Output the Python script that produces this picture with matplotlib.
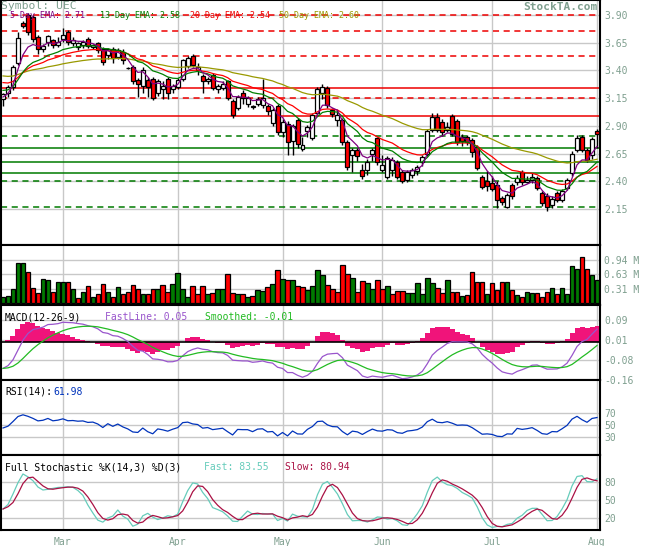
import numpy as np
import matplotlib
matplotlib.use('Agg')
import matplotlib.pyplot as plt
import pandas as pd

# ---------------- data ----------------
opens = [3.14,3.20,3.25,3.47,3.83,3.90,3.88,3.70,3.59,3.66,
         3.67,3.63,3.68,3.75,3.65,3.61,3.63,3.68,3.61,3.65,
         3.59,3.54,3.59,3.52,3.57,3.42,3.43,3.31,3.26,3.31,
         3.32,3.20,3.23,3.32,3.23,3.25,3.32,3.44,3.53,3.40,
         3.35,3.30,3.36,3.23,3.24,3.30,3.12,3.06,3.20,3.10,
         3.07,3.10,3.09,3.08,2.93,3.08,2.84,2.92,2.76,2.95,
         2.69,2.85,2.79,3.02,3.20,3.24,3.04,2.95,2.95,2.75,
         2.64,2.68,2.50,2.50,2.65,2.79,2.50,2.44,2.50,2.57,
         2.48,2.41,2.46,2.49,2.57,2.65,2.86,2.98,2.93,2.86,
         2.99,2.94,2.80,2.80,2.77,2.71,2.44,2.40,2.38,2.37,
         2.25,2.17,2.37,2.39,2.48,2.39,2.41,2.43,2.29,2.27,
         2.19,2.29,2.23,2.34,2.47,2.68,2.80,2.68,2.64,2.85]
highs = [3.20,3.27,3.45,3.75,3.85,3.92,3.90,3.72,3.64,3.72,
         3.68,3.70,3.78,3.76,3.70,3.66,3.67,3.70,3.64,3.66,
         3.61,3.60,3.61,3.60,3.59,3.43,3.45,3.33,3.43,3.34,
         3.34,3.32,3.30,3.34,3.28,3.33,3.50,3.53,3.55,3.47,
         3.37,3.34,3.38,3.28,3.30,3.31,3.14,3.18,3.22,3.17,
         3.09,3.16,3.32,3.10,3.06,3.10,2.96,2.94,2.92,2.97,
         2.80,2.91,3.02,3.25,3.28,3.26,3.06,3.04,2.97,2.77,
         2.70,2.70,2.56,2.60,2.70,2.80,2.64,2.63,2.62,2.59,
         2.50,2.50,2.52,2.55,2.64,2.87,3.02,3.02,2.96,2.93,
         3.01,2.96,2.83,2.82,2.79,2.73,2.46,2.49,2.45,2.40,
         2.27,2.29,2.38,2.46,2.50,2.45,2.47,2.45,2.31,2.29,
         2.27,2.31,2.33,2.43,2.67,2.82,2.82,2.70,2.80,2.87]
lows = [3.08,3.16,3.22,3.45,3.78,3.72,3.66,3.55,3.57,3.62,
        3.60,3.61,3.66,3.63,3.62,3.58,3.60,3.60,3.59,3.56,
        3.45,3.50,3.47,3.50,3.46,3.41,3.28,3.16,3.20,3.16,
        3.13,3.17,3.14,3.14,3.20,3.23,3.30,3.42,3.43,3.36,
        3.20,3.28,3.22,3.20,3.22,3.13,2.97,3.04,3.10,3.07,
        3.05,3.08,3.06,3.00,2.90,2.82,2.80,2.64,2.64,2.70,
        2.67,2.80,2.77,3.00,3.14,3.06,2.98,2.90,2.73,2.50,
        2.48,2.58,2.42,2.46,2.58,2.55,2.48,2.42,2.45,2.42,
        2.38,2.39,2.43,2.46,2.54,2.63,2.84,2.84,2.81,2.84,
        2.81,2.73,2.72,2.73,2.62,2.50,2.33,2.31,2.31,2.16,
        2.19,2.16,2.24,2.37,2.37,2.38,2.38,2.32,2.18,2.13,
        2.16,2.21,2.21,2.32,2.45,2.66,2.66,2.57,2.60,2.70]
closes = [3.19,3.25,3.43,3.69,3.80,3.75,3.68,3.59,3.62,3.71,
          3.63,3.66,3.72,3.66,3.67,3.65,3.66,3.62,3.63,3.58,
          3.48,3.59,3.51,3.58,3.49,3.42,3.30,3.28,3.40,3.25,
          3.15,3.30,3.26,3.20,3.26,3.31,3.49,3.51,3.45,3.43,
          3.30,3.32,3.24,3.26,3.28,3.15,3.00,3.16,3.15,3.15,
          3.07,3.14,3.15,3.03,3.04,2.84,2.93,2.75,2.90,2.74,
          2.73,2.89,3.00,3.23,3.25,3.09,3.01,3.00,2.75,2.53,
          2.68,2.63,2.45,2.57,2.68,2.57,2.55,2.61,2.59,2.44,
          2.40,2.48,2.50,2.53,2.62,2.85,2.98,2.86,2.84,2.89,
          2.83,2.75,2.76,2.75,2.66,2.52,2.35,2.36,2.33,2.23,
          2.21,2.28,2.27,2.43,2.39,2.41,2.44,2.34,2.20,2.17,
          2.24,2.23,2.31,2.41,2.65,2.79,2.68,2.59,2.78,2.83]
volumes = [0.14,0.16,0.32,0.86,0.86,0.67,0.34,0.22,0.52,0.50,
           0.24,0.47,0.47,0.47,0.32,0.11,0.25,0.38,0.14,0.20,
           0.42,0.24,0.14,0.35,0.20,0.24,0.40,0.32,0.20,0.20,
           0.32,0.32,0.40,0.24,0.42,0.65,0.32,0.14,0.38,0.20,
           0.38,0.20,0.22,0.30,0.30,0.63,0.22,0.20,0.20,0.14,
           0.17,0.28,0.26,0.36,0.42,0.72,0.52,0.50,0.50,0.37,
           0.35,0.28,0.38,0.72,0.61,0.40,0.31,0.24,0.83,0.63,
           0.54,0.24,0.48,0.43,0.31,0.50,0.32,0.38,0.20,0.27,
           0.27,0.22,0.22,0.43,0.20,0.54,0.43,0.34,0.22,0.50,
           0.25,0.25,0.16,0.18,0.68,0.47,0.45,0.20,0.43,0.29,
           0.45,0.45,0.29,0.18,0.14,0.24,0.22,0.22,0.14,0.25,
           0.34,0.20,0.34,0.20,0.80,0.74,0.99,0.73,0.61,0.50]

month_pos = [12, 35, 56, 76, 98, 119]
month_labels = ['Mar', 'Apr', 'May', 'Jun', 'Jul', 'Aug']

price_ticks = [3.90, 3.65, 3.40, 3.15, 2.90, 2.65, 2.40, 2.15]
red_dashed_levels = [3.90, 3.756, 3.53, 3.151]
red_solid_levels = [3.241, 2.988]
green_dashed_levels = [2.808, 2.40, 2.167]
green_solid_levels = [2.70, 2.573, 2.474]

vol_ticks = [0.3125, 0.625, 0.9375]
vol_tick_labels = ['0.31 M', '0.63 M', '0.94 M']
macd_ticks = [0.0917, 0.0083, -0.075, -0.1583]
macd_tick_labels = ['0.09', '0.01', '-0.08', '-0.16']
osc_ticks_rsi = [70, 50, 30]
osc_ticks_sto = [80, 50, 20]

# seeds of the indicators at the first visible day
ema_seeds = {5: 3.16, 13: 3.22, 20: 3.29, 50: 3.35}
ema12_seed, ema26_seed, signal_seed = 3.21, 3.32, -0.11
rsi_gain_seed, rsi_loss_seed = 0.036, 0.044
sto_pre_high, sto_pre_low = 3.45, 3.05

# ---------------- indicators ----------------
c = np.array(closes)
o = np.array(opens)
h = np.array(highs)
l = np.array(lows)
v = np.array(volumes)
n = len(c)
x = np.arange(n)

def ema(vals, period, seed):
    a = 2.0 / (period + 1)
    out = [seed]
    for val in vals[1:]:
        out.append(out[-1] + a * (val - out[-1]))
    return np.array(out)

ema5 = ema(c, 5, ema_seeds[5])
ema13 = ema(c, 13, ema_seeds[13])
ema20 = ema(c, 20, ema_seeds[20])
ema50 = ema(c, 50, ema_seeds[50])

macd = ema(c, 12, ema12_seed) - ema(c, 26, ema26_seed)
a9 = 2.0 / 10
sig = [signal_seed]
for m in macd[1:]:
    sig.append(sig[-1] + a9 * (m - sig[-1]))
sig = np.array(sig)
hist = macd - sig

ag, al = rsi_gain_seed, rsi_loss_seed
rsi = [100 - 100 / (1 + ag / al)]
for i in range(1, n):
    d = c[i] - c[i - 1]
    ag = (ag * 13 + max(d, 0)) / 14
    al = (al * 13 + max(-d, 0)) / 14
    rsi.append(100 - 100 / (1 + ag / al))
rsi = np.array(rsi)

hh = pd.Series([sto_pre_high] * 13 + list(h)).rolling(14).max().values[13:]
ll = pd.Series([sto_pre_low] * 13 + list(l)).rolling(14).min().values[13:]
raw_k = (c - ll) / (hh - ll) * 100
fast_k = pd.Series(raw_k).rolling(3, min_periods=1).mean().values
slow_d = pd.Series(fast_k).rolling(3, min_periods=1).mean().values

# ---------------- figure ----------------
W_PX, H_PX = 655, 546
plt.rcParams['font.family'] = ['DejaVu Sans Mono']
fig = plt.figure(figsize=(W_PX / 100, H_PX / 100), dpi=100)
fig.patch.set_facecolor('white')

GG = '#7f9f8f'
GRID = '#c8c8c8'
LEFT = 1.0 / W_PX
WID = 599.0 / W_PX
XL = (-0.4, 119.6)

def panel(top, bot):
    ax = fig.add_axes([LEFT, 1 - bot / H_PX, WID, (bot - top) / H_PX])
    ax.set_xlim(*XL)
    ax.set_xticks(month_pos)
    ax.tick_params(axis='x', length=0, labelbottom=False)
    ax.yaxis.tick_right()
    ax.tick_params(axis='y', length=0, pad=3, labelsize=7, labelcolor=GG)
    ax.grid(True, color=GRID, lw=1.0)
    ax.set_axisbelow(True)
    for s in ax.spines.values():
        s.set_color('black')
        s.set_linewidth(1.5)
    return ax

def txt(px, py, s, color, size=7, **kw):
    fig.text(px / W_PX, 1 - py / H_PX, s, color=color, fontsize=size,
             va='center', ha=kw.pop('ha', 'left'), **kw)

# price panel
ax1 = panel(0, 245)
ax1.set_ylim(1.825, 4.035)
ax1.set_yticks(price_ticks)
ax1.set_yticklabels(['%.2f' % t for t in price_ticks])
for lv in red_dashed_levels:
    ax1.axhline(lv, color='#ee0000', lw=1.1, ls=(0, (4, 3)), zorder=1.5)
for lv in red_solid_levels:
    ax1.axhline(lv, color='#ee0000', lw=1.1, zorder=1.5)
for lv in green_dashed_levels:
    ax1.axhline(lv, color='#007a00', lw=1.1, ls=(0, (4, 3)), zorder=1.5)
for lv in green_solid_levels:
    ax1.axhline(lv, color='#007a00', lw=1.1, zorder=1.5)

ax1.vlines(x, l, h, color='black', lw=1.0, zorder=3)
up = c >= o
body_low = np.minimum(o, c)
body_h = np.maximum(np.abs(c - o), 0.006)
ax1.bar(x, body_h, bottom=body_low, width=0.8,
        color=np.where(up, 'white', '#ff0000'), edgecolor='black', lw=0.9, zorder=4)
ax1.plot(x, ema50, color='#999900', lw=0.9, zorder=5)
ax1.plot(x, ema20, color='#ff0000', lw=0.9, zorder=5)
ax1.plot(x, ema13, color='#008000', lw=0.9, zorder=5)
ax1.plot(x, ema5, color='#800080', lw=0.9, zorder=5)

# volume panel
ax2 = panel(245, 305)
ax2.set_ylim(-0.034, 1.256)
ax2.set_yticks(vol_ticks)
ax2.set_yticklabels(vol_tick_labels)
prev = np.concatenate([[c[0] - 0.01], c[:-1]])
vcol = np.where(c >= prev, '#007a00', '#ff0000')
ax2.bar(x, v, width=0.9, color=vcol, edgecolor='black', lw=0.9, zorder=3)

# MACD panel
ax3 = panel(305, 380)
ax3.set_ylim(-0.158, 0.154)
ax3.set_yticks(macd_ticks)
ax3.set_yticklabels(macd_tick_labels)
ax3.bar(x, hist, width=1.0, color='#f0147a', lw=0, zorder=2)
ax3.axhline(0, color='black', lw=1.2, zorder=2.5)
ax3.plot(x, macd, color='#9955cc', lw=0.9, zorder=3)
ax3.plot(x, sig, color='#22bb22', lw=0.9, zorder=3)

# RSI panel
ax4 = panel(380, 455)
ax4.set_ylim(0, 125)
ax4.set_yticks(osc_ticks_rsi)
ax4.set_yticklabels([str(t) for t in osc_ticks_rsi])
ax4.plot(x, rsi, color='#0033bb', lw=0.9, zorder=3)

# Stochastic panel
ax5 = panel(455, 530)
ax5.set_ylim(0, 125)
ax5.set_yticks(osc_ticks_sto)
ax5.set_yticklabels([str(t) for t in osc_ticks_sto])
ax5.plot(x, fast_k, color='#66ccbb', lw=0.9, zorder=3)
ax5.plot(x, slow_d, color='#aa1144', lw=0.9, zorder=3)
ax5.set_xticklabels(month_labels)
ax5.tick_params(axis='x', labelbottom=True, labelcolor=GG, labelsize=7, pad=5)

# ---------------- texts ----------------
txt(1, 6, 'Symbol: UEC', GG, size=8.2)
txt(598, 7, 'StockTA.com', GG, size=8, ha='right', fontweight='bold')
txt(10, 15, '5-Day EMA: 2.71', '#800080', size=6)
txt(100, 15, '13-Day EMA: 2.58', '#008000', size=6)
txt(190, 15, '20-Day EMA: 2.54', '#ee0000', size=6)
txt(279, 15, '50-Day EMA: 2.60', '#999900', size=6)

txt(5, 317, 'MACD(12-26-9)', 'black')
txt(105, 317, 'FastLine: 0.05', '#9955cc')
txt(205, 317, 'Smoothed: -0.01', '#22bb22')

txt(5, 392, 'RSI(14):', 'black')
txt(53, 392, '61.98', '#0033bb')

txt(5, 467, 'Full Stochastic %K(14,3) %D(3)', 'black')
txt(204, 467, 'Fast: 83.55', '#66ccbb')
txt(285, 467, 'Slow: 80.94', '#aa1144')

fig.savefig('out.png', dpi=100, facecolor='white')
